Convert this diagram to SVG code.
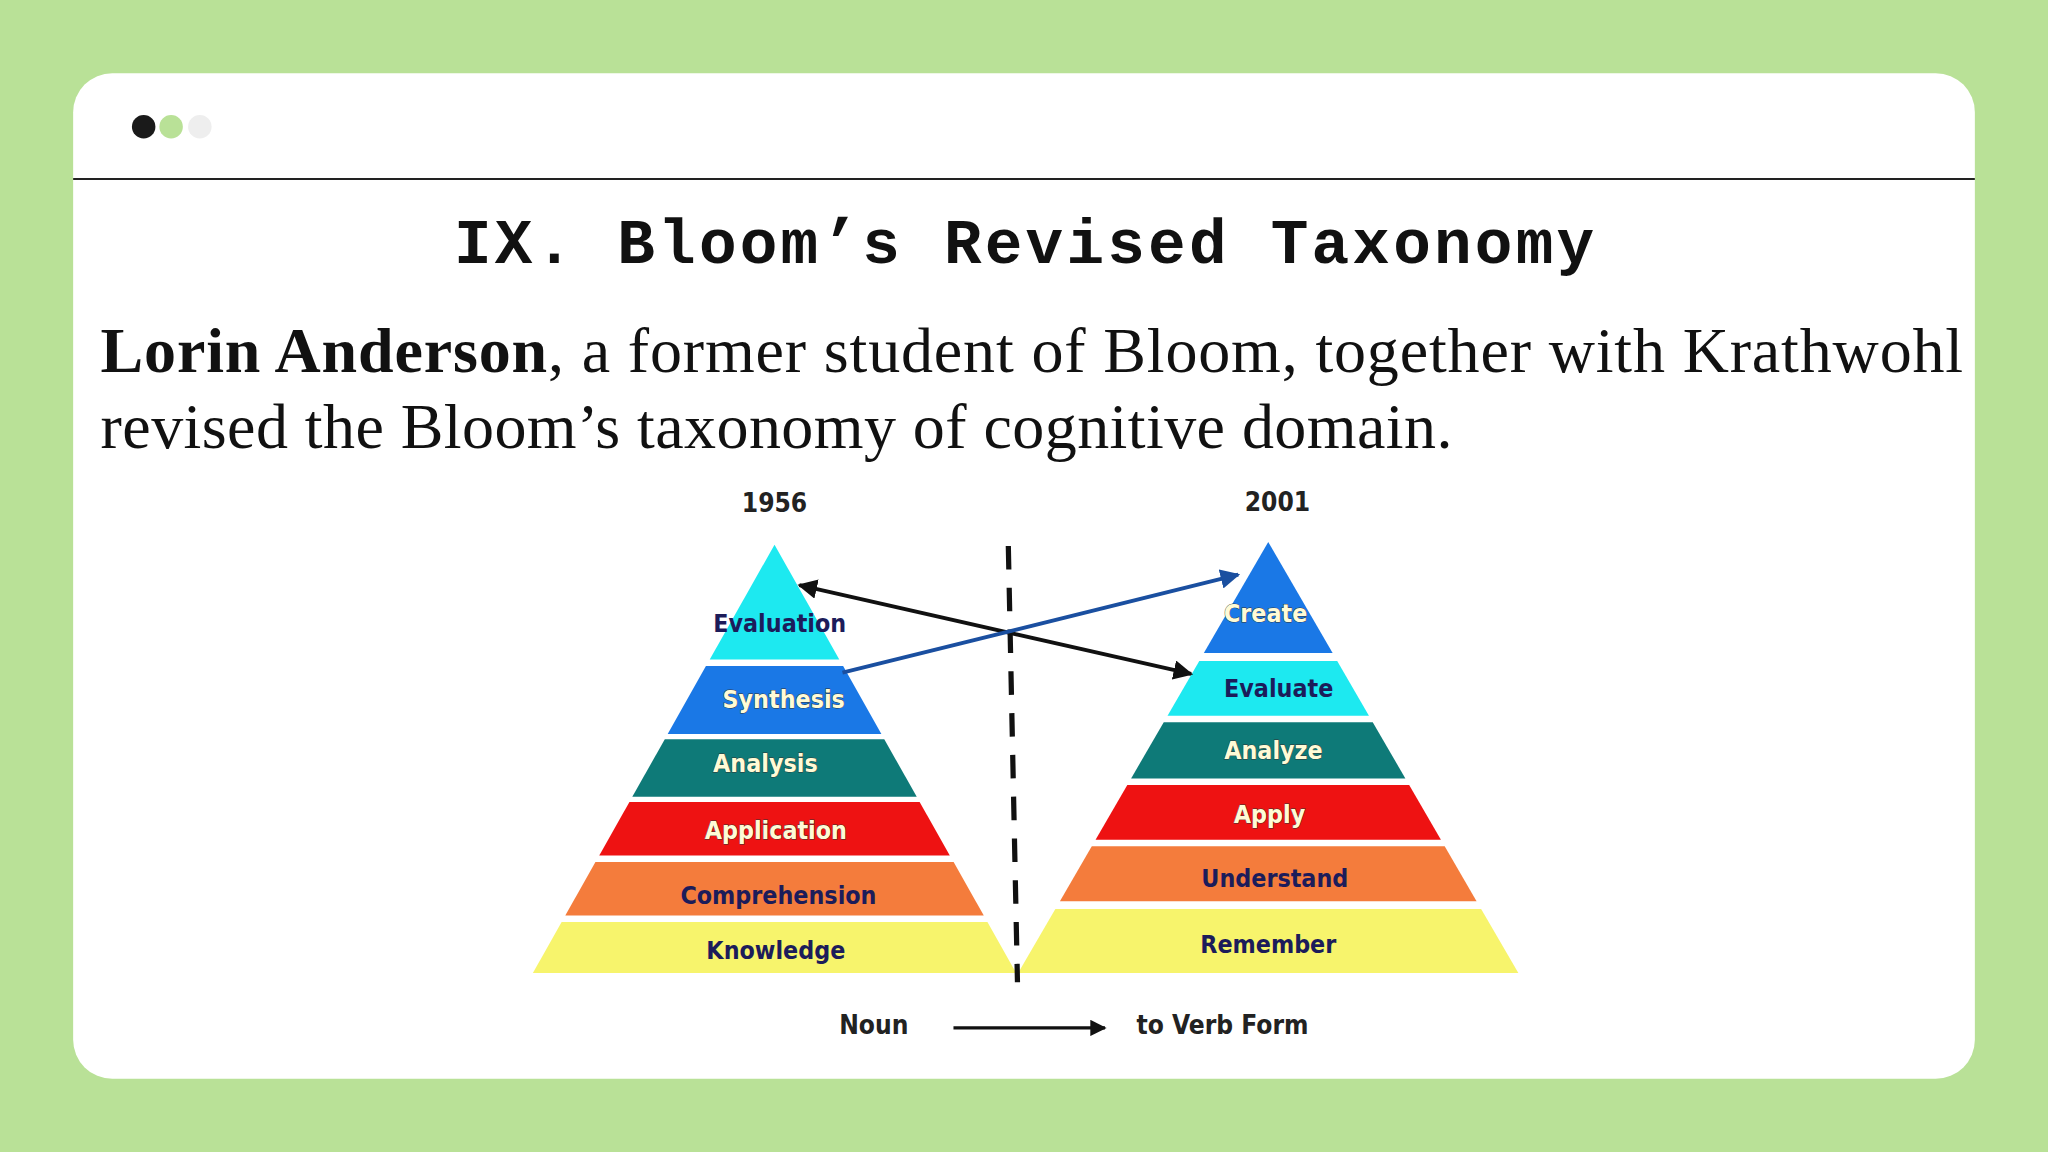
<svg xmlns="http://www.w3.org/2000/svg" width="2048" height="1152" viewBox="0 0 2048 1152">
<defs>
<style>
.lbl{font-family:"DejaVu Sans Condensed","DejaVu Sans",sans-serif;font-weight:bold;font-size:19px;text-anchor:middle}
.dk{fill:#1c1c5a}
.lt{fill:#fffbd6;stroke:#333;stroke-width:0.6;paint-order:stroke}
.hd{font-family:"DejaVu Sans Condensed","DejaVu Sans",sans-serif;font-weight:bold;font-size:20px;text-anchor:middle;fill:#222}
</style>
<marker id="ak" viewBox="0 0 10 10" refX="9" refY="5" markerWidth="5" markerHeight="5" orient="auto-start-reverse"><path d="M0,0L10,5L0,10z" fill="#111"/></marker>
<marker id="ab" viewBox="0 0 10 10" refX="9" refY="5" markerWidth="5" markerHeight="5" orient="auto-start-reverse"><path d="M0,0L10,5L0,10z" fill="#1a4fa0"/></marker>
</defs>
<rect width="2048" height="1152" fill="#b9e197"/>
<g transform="scale(1.30612)">
<rect x="56" y="56" width="1456" height="770" rx="30" fill="#fff"/>
<circle cx="110" cy="97" r="9" fill="#1a1a1a"/>
<circle cx="131" cy="97" r="9" fill="#b9e197"/>
<circle cx="153" cy="97" r="9" fill="#eeeeee"/>
<line x1="56" y1="137" x2="1512" y2="137" stroke="#222" stroke-width="1.5"/>
<text x="784" y="201" text-anchor="middle" font-family="Liberation Mono, monospace" font-weight="bold" font-size="48" textLength="873" fill="#111">IX. Bloom’s Revised Taxonomy</text>
<text x="77" y="285" font-family="Liberation Serif, serif" font-size="49" fill="#111" textLength="1426"><tspan font-weight="bold">Lorin Anderson</tspan>, a former student of Bloom, together with Krathwohl</text>
<text x="77" y="343" font-family="Liberation Serif, serif" font-size="49" fill="#111" textLength="1035">revised the Bloom’s taxonomy of cognitive domain.</text>
<text class="hd" x="593" y="392">1956</text>
<text class="hd" x="978" y="391">2001</text>
<g id="left-pyramid">
<g id="evaluation"><polygon points="593,417 642.6,505 543.4,505" fill="#1de9f0"/><text class="lbl dk" x="597" y="484">Evaluation</text></g>
<g id="synthesis"><polygon points="540.5,510 645.5,510 674.8,562 511.2,562" fill="#1a78e6"/><text class="lbl lt" x="600" y="542">Synthesis</text></g>
<g id="analysis"><polygon points="509,566 677,566 701.9,610 484.1,610" fill="#0e7a78"/><text class="lbl lt" x="586" y="591">Analysis</text></g>
<g id="application"><polygon points="481.9,614 704.1,614 727.2,655 458.8,655" fill="#ee1212"/><text class="lbl lt" x="594" y="642">Application</text></g>
<g id="comprehension"><polygon points="455.9,660 730.1,660 753.2,701 432.8,701" fill="#f47c3c"/><text class="lbl dk" x="596" y="692">Comprehension</text></g>
<g id="knowledge"><polygon points="430,706 756,706 778,745 408,745" fill="#f7f46c"/><text class="lbl dk" x="594" y="734">Knowledge</text></g>
</g>
<g id="right-pyramid">
<g id="create"><polygon points="971,415 1020.3,500 921.7,500" fill="#1a78e6"/><text class="lbl lt" x="969" y="476">Create</text></g>
<g id="evaluate"><polygon points="918.2,506 1023.8,506 1048.1,548 893.9,548" fill="#1de9f0"/><text class="lbl dk" x="979" y="534">Evaluate</text></g>
<g id="analyze"><polygon points="891,553 1051,553 1076,596 866,596" fill="#0e7a78"/><text class="lbl lt" x="975" y="581">Analyze</text></g>
<g id="apply"><polygon points="863.1,601 1078.9,601 1103.2,643 838.8,643" fill="#ee1212"/><text class="lbl lt" x="972" y="630">Apply</text></g>
<g id="understand"><polygon points="835.9,648 1106.1,648 1130.5,690 811.5,690" fill="#f47c3c"/><text class="lbl dk" x="976" y="679">Understand</text></g>
<g id="remember"><polygon points="808,696 1134,696 1162.5,745 779.5,745" fill="#f7f46c"/><text class="lbl dk" x="971" y="730">Remember</text></g>
</g>
<g id="connectors">
<line x1="772" y1="418" x2="779" y2="752" stroke="#111" stroke-width="4" stroke-dasharray="18,14"/>
<line x1="612" y1="448" x2="912" y2="516" stroke="#111" stroke-width="3" marker-start="url(#ak)" marker-end="url(#ak)"/>
<line x1="645" y1="515" x2="948" y2="440" stroke="#1a4fa0" stroke-width="3" marker-end="url(#ab)"/>
<line x1="730" y1="787" x2="846" y2="787" stroke="#111" stroke-width="2.5" marker-end="url(#ak)"/>
</g>
<text class="hd" x="669" y="792">Noun</text>
<text class="hd" x="936" y="792">to Verb Form</text>
</g>
</svg>
